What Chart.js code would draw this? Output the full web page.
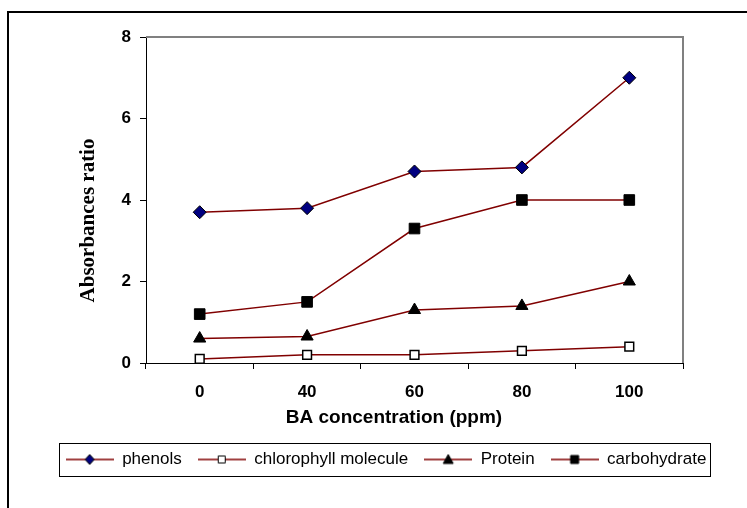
<!DOCTYPE html>
<html><head><meta charset="utf-8">
<script src="https://cdn.jsdelivr.net/npm/chart.js@4"></script>
<style>html,body{margin:0;padding:0;background:#fff;overflow:hidden}canvas{display:block}</style>
</head><body>
<canvas id="c" width="747" height="508"></canvas>
<script>
const categories = ['0', '40', '60', '80', '100'];
const phenols = [3.7, 3.8, 4.7, 4.8, 7.0];
const chlorophyll = [0.1, 0.2, 0.2, 0.3, 0.4];
const protein = [0.6, 0.65, 1.3, 1.4, 2.0];
const carbohydrate = [1.2, 1.5, 3.3, 4.0, 4.0];
const seriesNames = ['phenols', 'chlorophyll molecule', 'Protein', 'carbohydrate'];
const yTicks = [0, 2, 4, 6, 8];
const xTitle = 'BA concentration (ppm)';
const yTitle = 'Absorbances ratio';

const LINE = '#800000';
const SANS = '"Liberation Sans", Arial, sans-serif';
const SERIF = '"Liberation Serif", "Times New Roman", serif';

function makeIcon(kind) {
  const c = document.createElement('canvas');
  c.width = 48; c.height = 14;
  const g = c.getContext('2d');
  g.strokeStyle = LINE; g.lineWidth = 1.5;
  g.beginPath(); g.moveTo(0, 7); g.lineTo(48, 7); g.stroke();
  const cx = 24, cy = 7;
  g.lineWidth = 1; g.strokeStyle = '#000';
  g.beginPath();
  if (kind === 'diamond') {
    g.fillStyle = '#000080';
    g.moveTo(cx, cy - 5); g.lineTo(cx + 4.5, cy); g.lineTo(cx, cy + 5); g.lineTo(cx - 4.5, cy); g.closePath();
  } else if (kind === 'open') {
    g.fillStyle = '#fff';
    g.rect(cx - 3.5, cy - 3.5, 7, 7);
  } else if (kind === 'tri') {
    g.fillStyle = '#000';
    g.moveTo(cx, cy - 5); g.lineTo(cx + 5, cy + 4); g.lineTo(cx - 5, cy + 4); g.closePath();
  } else {
    g.fillStyle = '#000';
    g.rect(cx - 4, cy - 4, 8, 8);
  }
  g.fill(); g.stroke();
  return c;
}
const legendIcons = [makeIcon('diamond'), makeIcon('open'), makeIcon('tri'), makeIcon('sq')];

const framePlugin = {
  id: 'frame',
  beforeDraw(chart) {
    const ctx = chart.ctx;
    ctx.save();
    ctx.fillStyle = '#fff';
    ctx.fillRect(0, 0, chart.width, chart.height);
    ctx.fillStyle = '#000';
    ctx.fillRect(7, 11, 2, chart.height - 11);
    ctx.fillRect(7, 11, chart.width - 7, 2);
    ctx.restore();
  },
  beforeDatasetsDraw(chart) {
    const a = chart.chartArea, ctx = chart.ctx;
    ctx.save();
    ctx.strokeStyle = '#808080';
    ctx.lineWidth = 2;
    ctx.beginPath();
    ctx.moveTo(a.left, a.top);
    ctx.lineTo(a.right, a.top);
    ctx.lineTo(a.right, a.bottom);
    ctx.stroke();
    ctx.restore();
  },
  afterDraw(chart) {
    const ctx = chart.ctx;
    ctx.save();
    ctx.fillStyle = '#000';
    ctx.font = 'bold 19px ' + SANS;
    ctx.textAlign = 'center';
    ctx.textBaseline = 'alphabetic';
    ctx.fillText(xTitle, 394, 423);
    ctx.translate(94, 220.5);
    ctx.rotate(-Math.PI / 2);
    ctx.font = 'bold 21px ' + SERIF;
    ctx.fillText(yTitle, 0, 0);
    ctx.restore();
    const hb = chart.legend.legendHitBoxes;
    if (hb && hb.length) {
      let l = Infinity, r = -Infinity;
      hb.forEach(h => { l = Math.min(l, h.left); r = Math.max(r, h.left + h.width); });
      const cy = hb[0].top + hb[0].height / 2;
      ctx.save();
      ctx.strokeStyle = '#000';
      ctx.lineWidth = 1;
      ctx.strokeRect(Math.round(l - 7) + 0.5, Math.round(cy - 16.5) + 0.5, Math.round(r - l + 10), 33);
      ctx.restore();
    }
  }
};

const seriesData = [phenols, chlorophyll, protein, carbohydrate];
const styles = [
  { pointStyle: 'rectRot', radius: 6.5, bg: '#000080', bw: 1 },
  { pointStyle: 'rect', radius: 6.2, bg: '#ffffff', bw: 1.5 },
  { pointStyle: 'triangle', radius: 7, bg: '#000000', bw: 1 },
  { pointStyle: 'rect', radius: 7.5, bg: '#000000', bw: 1 }
];

new Chart(document.getElementById('c'), {
  type: 'line',
  data: {
    labels: categories,
    datasets: seriesNames.map((name, i) => ({
      label: name,
      data: seriesData[i],
      yAxisID: 'y',
      borderColor: LINE,
      borderWidth: 1.5,
      tension: 0,
      fill: false,
      pointStyle: styles[i].pointStyle,
      pointRadius: styles[i].radius,
      pointHoverRadius: styles[i].radius,
      pointBackgroundColor: styles[i].bg,
      pointBorderColor: '#000',
      pointBorderWidth: styles[i].bw
    }))
  },
  options: {
    responsive: false,
    animation: false,
    devicePixelRatio: 1,
    layout: { padding: { left: 25, right: 0, top: 37, bottom: 30 } },
    scales: {
      x: {
        type: 'category',
        offset: true,
        grid: { display: true, offset: true, drawOnChartArea: false, drawTicks: true, tickLength: 6, color: '#000', lineWidth: 1 },
        border: { display: true, color: '#000', width: 1 },
        ticks: { color: '#000', padding: 13, font: { family: SANS, size: 17, weight: 'bold' }, maxRotation: 0 },
        afterFit(s) { s.height = 72; }
      },
      y: {
        min: 0, max: 8,
        afterBuildTicks(s) { s.ticks = yTicks.map(v => ({ value: v })); },
        grid: { display: true, drawOnChartArea: false, drawTicks: true, tickLength: 6, color: '#000', lineWidth: 1 },
        border: { display: true, color: '#000', width: 1 },
        ticks: { color: '#000', padding: 9, font: { family: SANS, size: 17, weight: 'bold' } },
        afterFit(s) { s.width = 121; }
      },
      yRight: {
        type: 'linear',
        position: 'right',
        display: true,
        grid: { display: false, drawTicks: false },
        border: { display: false },
        ticks: { display: false },
        afterFit(s) { s.width = 64; }
      }
    },
    plugins: {
      tooltip: { enabled: false },
      title: { display: false },
      legend: {
        display: true,
        position: 'bottom',
        labels: {
          usePointStyle: true,
          pointStyleWidth: 48,
          padding: 16,
          color: '#000',
          font: { family: SANS, size: 17 },
          generateLabels(chart) {
            return chart.data.datasets.map((ds, i) => ({
              text: ds.label,
              pointStyle: legendIcons[i],
              fillStyle: '#000',
              strokeStyle: '#000',
              lineWidth: 0,
              hidden: false,
              datasetIndex: i,
              fontColor: '#000'
            }));
          }
        }
      }
    }
  },
  plugins: [framePlugin]
});
</script>
</body></html>
